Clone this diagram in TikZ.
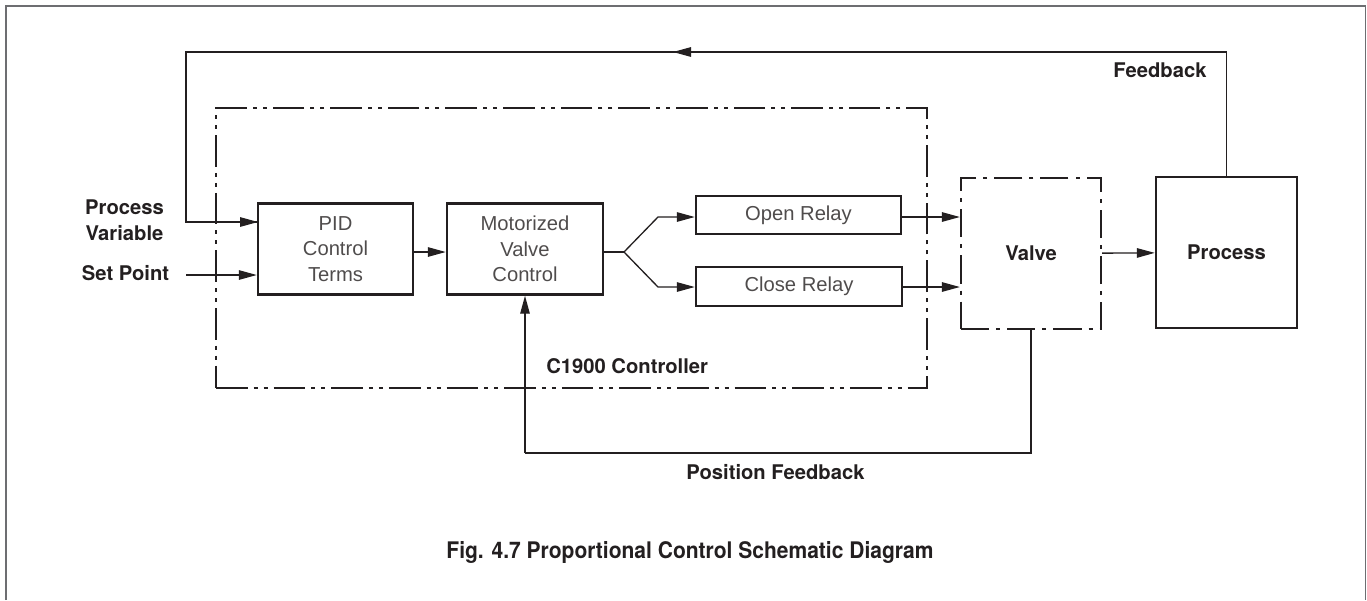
\documentclass[tikz,border=0pt]{standalone}
\usepackage{fontspec}
\usepackage{graphicx}
\usepackage{tikz}
\usetikzlibrary{arrows.meta,positioning,calc}
\setmainfont{Liberation Sans}
\newfontfamily\labelfont{TeX Gyre Heros}
\definecolor{ink}{HTML}{231F20}
\definecolor{framegray}{HTML}{6D6E71}

\begin{document}
\begin{tikzpicture}[
    x=0.02cm, y=-0.02cm,
    blk/.style={draw=ink, line width=1.4pt, align=center, inner sep=0pt,
        font=\fontsize{11.5}{14.5}\selectfont, text=ink!80},
    ddbox/.style={draw=ink, line width=1.3pt, inner sep=0pt,
        dash pattern=on 18pt off 3.4pt on 2.3pt off 3.4pt on 2.3pt off 3.4pt},
    dbox/.style={draw=ink, line width=1.3pt, inner sep=0pt, align=center,
        dash pattern=on 16pt off 4pt on 2.3pt off 4pt,
        font=\labelfont\bfseries\fontsize{11.5}{14}\selectfont, text=ink},
    lbl/.style={align=center, inner sep=0pt, text=ink,
        font=\labelfont\bfseries\fontsize{11.5}{14.5}\selectfont},
    arrow/.style={-{Triangle[length=3.6mm,width=1.9mm]}, line width=0.75pt, draw=ink},
    line/.style={line width=0.75pt, draw=ink}
]
\useasboundingbox (0,0) rectangle (1367,600);
\draw[framegray, line width=0.7pt] (6,600) -- (6,6) -- (1365.5,6) -- (1365.5,600);

% controller frame
\node[ddbox, minimum width=14.22cm, minimum height=5.6cm] (ctrl) at (571.5,248) {};
\node[lbl, anchor=west] (ctrllbl) at (546,366) {C1900 Controller};

% blocks
\node[blk, minimum width=3.1cm, minimum height=1.82cm] (pid) at (335.5,249) {PID\\Control\\Terms};
\node[blk, minimum width=3.12cm, minimum height=1.82cm] (mvc) at (525,249) {Motorized\\Valve\\Control};
\node[blk, minimum width=4.1cm, minimum height=0.76cm] (open) at (798.5,215) {Open Relay};
\node[blk, minimum width=4.12cm, minimum height=0.78cm] (close) at (799,286.5) {Close Relay};
\node[dbox, minimum width=2.8cm, minimum height=3.02cm] (valve) at (1031,253.5) {Valve};
\node[blk, minimum width=2.82cm, minimum height=3.02cm, text=ink,
      font=\labelfont\bfseries\fontsize{11.5}{14}\selectfont] (proc) at (1226.5,252.5) {Process};

% labels
\node[lbl] (pv) at (124.5,220) {Process\\Variable};
\node[lbl] (sp) at (125.5,273) {Set Point};
\node[lbl] (fblbl) at (1160,70) {Feedback};
\node[lbl] (pfblbl) at (775.5,472) {Position Feedback};
\node[lbl, font=\labelfont\bfseries\fontsize{13}{15}\selectfont] (caption) at (690,552)
    {\scalebox{0.92}[1]{Fig. 4.7 Proportional Control Schematic Diagram}};

% helper points
\coordinate (split) at (624,252);
\coordinate (fbr) at (proc.north |- 0,52);
\coordinate (fbl) at (186,52);
\coordinate (pvin) at (258,222);
\coordinate (spin) at (186,275);
\coordinate (pfb) at (mvc.south |- 0,453);

% connectors
\draw[arrow] (pid.east |- split) -- (mvc.west |- split);
\draw[line] (mvc.east |- split) -- (split);
\draw[arrow] (split) -- (658,217) -- (open.west |- 0,217);
\draw[arrow] (split) -- (658,287) -- (close.west |- 0,287);
\draw[arrow] (open.east |- 0,217) -- (valve.west |- 0,217);
\draw[arrow] (close.east |- 0,287) -- (valve.west |- 0,287);
\draw[arrow] (valve) -- (proc);
\draw[line] (proc.north) -- (fbr) -- (fbl) |- (pvin);
\draw[arrow] (fbr) -- (673,52);
\draw[arrow] (fbl |- pvin) -- (pvin);
\draw[arrow] (spin) -- (spin -| pid.west);
\draw[line] (valve.south) |- (pfb);
\draw[arrow] (pfb) -- (mvc.south);
\end{tikzpicture}
\end{document}
